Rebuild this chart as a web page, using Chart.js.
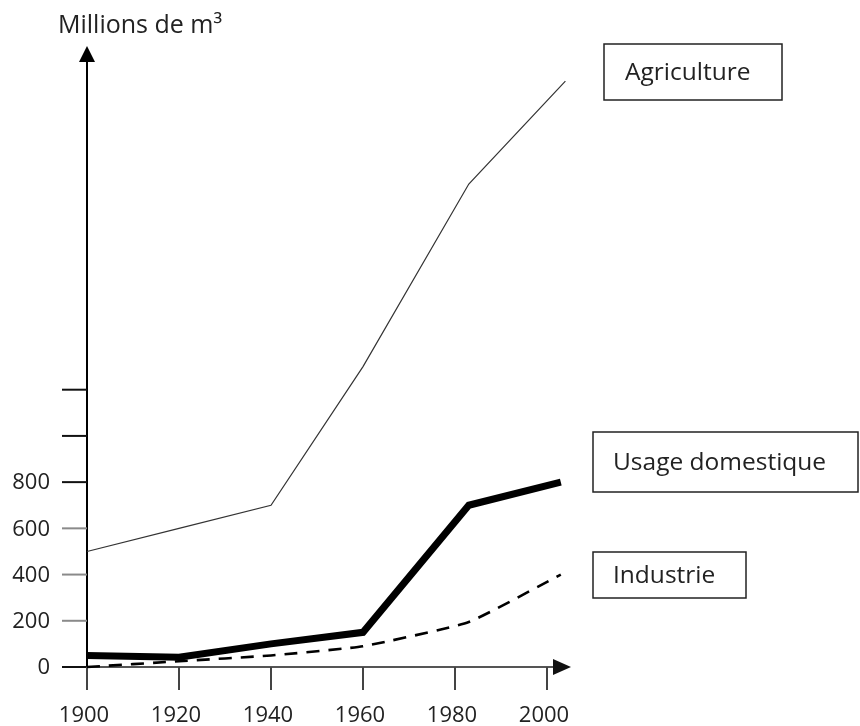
<!DOCTYPE html>
<html>
<head>
<meta charset="utf-8">
<script src="https://cdn.jsdelivr.net/npm/chart.js@4.4.1/dist/chart.umd.min.js"></script>
<style>
  body { margin: 0; background: #fff; }
  canvas { display: block; }
</style>
</head>
<body>
<canvas id="chartEau" width="860" height="726"></canvas>
<script>
// données
const years = [1900, 1920, 1940, 1960, 1983, 2003];
const yearsAgri = [1900, 1920, 1940, 1960, 1983, 2004];
const agriculture = [500, 600, 700, 1300, 2090, 2535];
const usageDomestique = [50, 42, 100, 150, 700, 800];
const industrie = [0, 25, 50, 90, 195, 400];
const seriesNames = ['Agriculture', 'Usage domestique', 'Industrie'];

const xTicks = [1900, 1920, 1940, 1960, 1980, 2000];
const yTicks = [0, 200, 400, 600, 800, 1000, 1200];
const yTickLabels = ['0', '200', '400', '600', '800', '', ''];
const yTitle = 'Millions de m³';

const FONT = '"Open Sans", sans-serif';

function toPoints(xs, ys) {
  return xs.map((x, i) => ({ x: x, y: ys[i] }));
}

// axes, flèches et étiquettes dessinés à la main
const axesPlugin = {
  id: 'axesFleches',
  beforeDatasetsDraw(chart) {
    const c = chart.ctx;
    const xs = chart.scales.x, ys = chart.scales.y;
    const x0 = xs.getPixelForValue(1900);
    const y0 = ys.getPixelForValue(0);
    const top = chart.chartArea.top;
    const right = chart.chartArea.right;
    c.save();

    // axe Y
    c.strokeStyle = '#000';
    c.lineWidth = 2;
    c.beginPath();
    c.moveTo(x0, top + 12);
    c.lineTo(x0, y0 + 23);
    c.stroke();
    c.fillStyle = '#000';
    c.beginPath();
    c.moveTo(x0, top - 4);
    c.lineTo(x0 - 8, top + 12);
    c.lineTo(x0 + 8, top + 12);
    c.closePath();
    c.fill();

    // graduations Y
    c.font = '22px ' + FONT;
    c.textAlign = 'right';
    c.textBaseline = 'middle';
    yTicks.forEach((v, i) => {
      const py = ys.getPixelForValue(v);
      c.strokeStyle = (v > 0 && v < 800) ? '#8a8a8a' : '#111';
      c.beginPath();
      c.moveTo(x0 - 25, py);
      c.lineTo(x0, py);
      c.stroke();
      if (yTickLabels[i]) {
        c.fillStyle = '#222';
        c.fillText(yTickLabels[i], x0 - 37, py + 1);
      }
    });

    // axe X
    c.strokeStyle = '#555';
    c.beginPath();
    c.moveTo(x0, y0);
    c.lineTo(right - 16, y0);
    c.stroke();
    c.fillStyle = '#111';
    c.beginPath();
    c.moveTo(right + 1, y0);
    c.lineTo(right - 17, y0 - 8);
    c.lineTo(right - 17, y0 + 8);
    c.closePath();
    c.fill();

    // graduations X
    c.textAlign = 'center';
    c.textBaseline = 'middle';
    xTicks.forEach((v) => {
      const px = xs.getPixelForValue(v);
      c.strokeStyle = '#444';
      c.beginPath();
      c.moveTo(px, y0);
      c.lineTo(px, y0 + 23);
      c.stroke();
      c.fillStyle = '#222';
      c.fillText(String(v), px - 3, y0 + 49);
    });

    // titre de l'axe
    c.font = '25px ' + FONT;
    c.textAlign = 'left';
    c.textBaseline = 'alphabetic';
    c.fillStyle = '#222';
    c.fillText(yTitle, 58, 33);
    c.restore();
  },
  afterDraw(chart) {
    const c = chart.ctx;
    // étiquettes encadrées des séries
    const boxes = [
      { x: 604, y: 44, w: 178, h: 56 },
      { x: 593, y: 432, w: 265, h: 60 },
      { x: 593, y: 552, w: 153, h: 46 }
    ];
    c.save();
    c.font = '24.5px ' + FONT;
    c.textAlign = 'left';
    c.textBaseline = 'middle';
    boxes.forEach((b, i) => {
      c.fillStyle = '#fff';
      c.fillRect(b.x, b.y, b.w, b.h);
      c.strokeStyle = '#222';
      c.lineWidth = 1.5;
      c.strokeRect(b.x, b.y, b.w, b.h);
      c.fillStyle = '#222';
      c.fillText(seriesNames[i], b.x + (i === 0 ? 21 : 20), b.y + b.h / 2 + 1);
    });
    c.restore();
  }
};

new Chart(document.getElementById('chartEau').getContext('2d'), {
  type: 'line',
  data: {
    datasets: [
      {
        label: seriesNames[0],
        data: toPoints(yearsAgri, agriculture),
        borderColor: '#333',
        borderWidth: 1.2,
        pointRadius: 0,
        tension: 0,
        clip: false
      },
      {
        label: seriesNames[1],
        data: toPoints(years, usageDomestique),
        borderColor: '#000',
        borderWidth: 7,
        borderCapStyle: 'butt',
        pointRadius: 0,
        tension: 0,
        clip: false
      },
      {
        label: seriesNames[2],
        data: toPoints(years, industrie),
        borderColor: '#000',
        borderWidth: 2.6,
        borderDash: [13, 9],
        pointRadius: 0,
        tension: 0.15,
        clip: false
      }
    ]
  },
  options: {
    responsive: false,
    devicePixelRatio: 1,
    animation: false,
    layout: { padding: { left: 87, right: 290, top: 50, bottom: 59 } },
    plugins: {
      legend: { display: false },
      tooltip: { enabled: false }
    },
    scales: {
      x: { type: 'linear', min: 1900, max: 2005, display: false },
      y: { type: 'linear', min: 0, max: 2670, display: false }
    }
  },
  plugins: [axesPlugin]
});
</script>
</body>
</html>
